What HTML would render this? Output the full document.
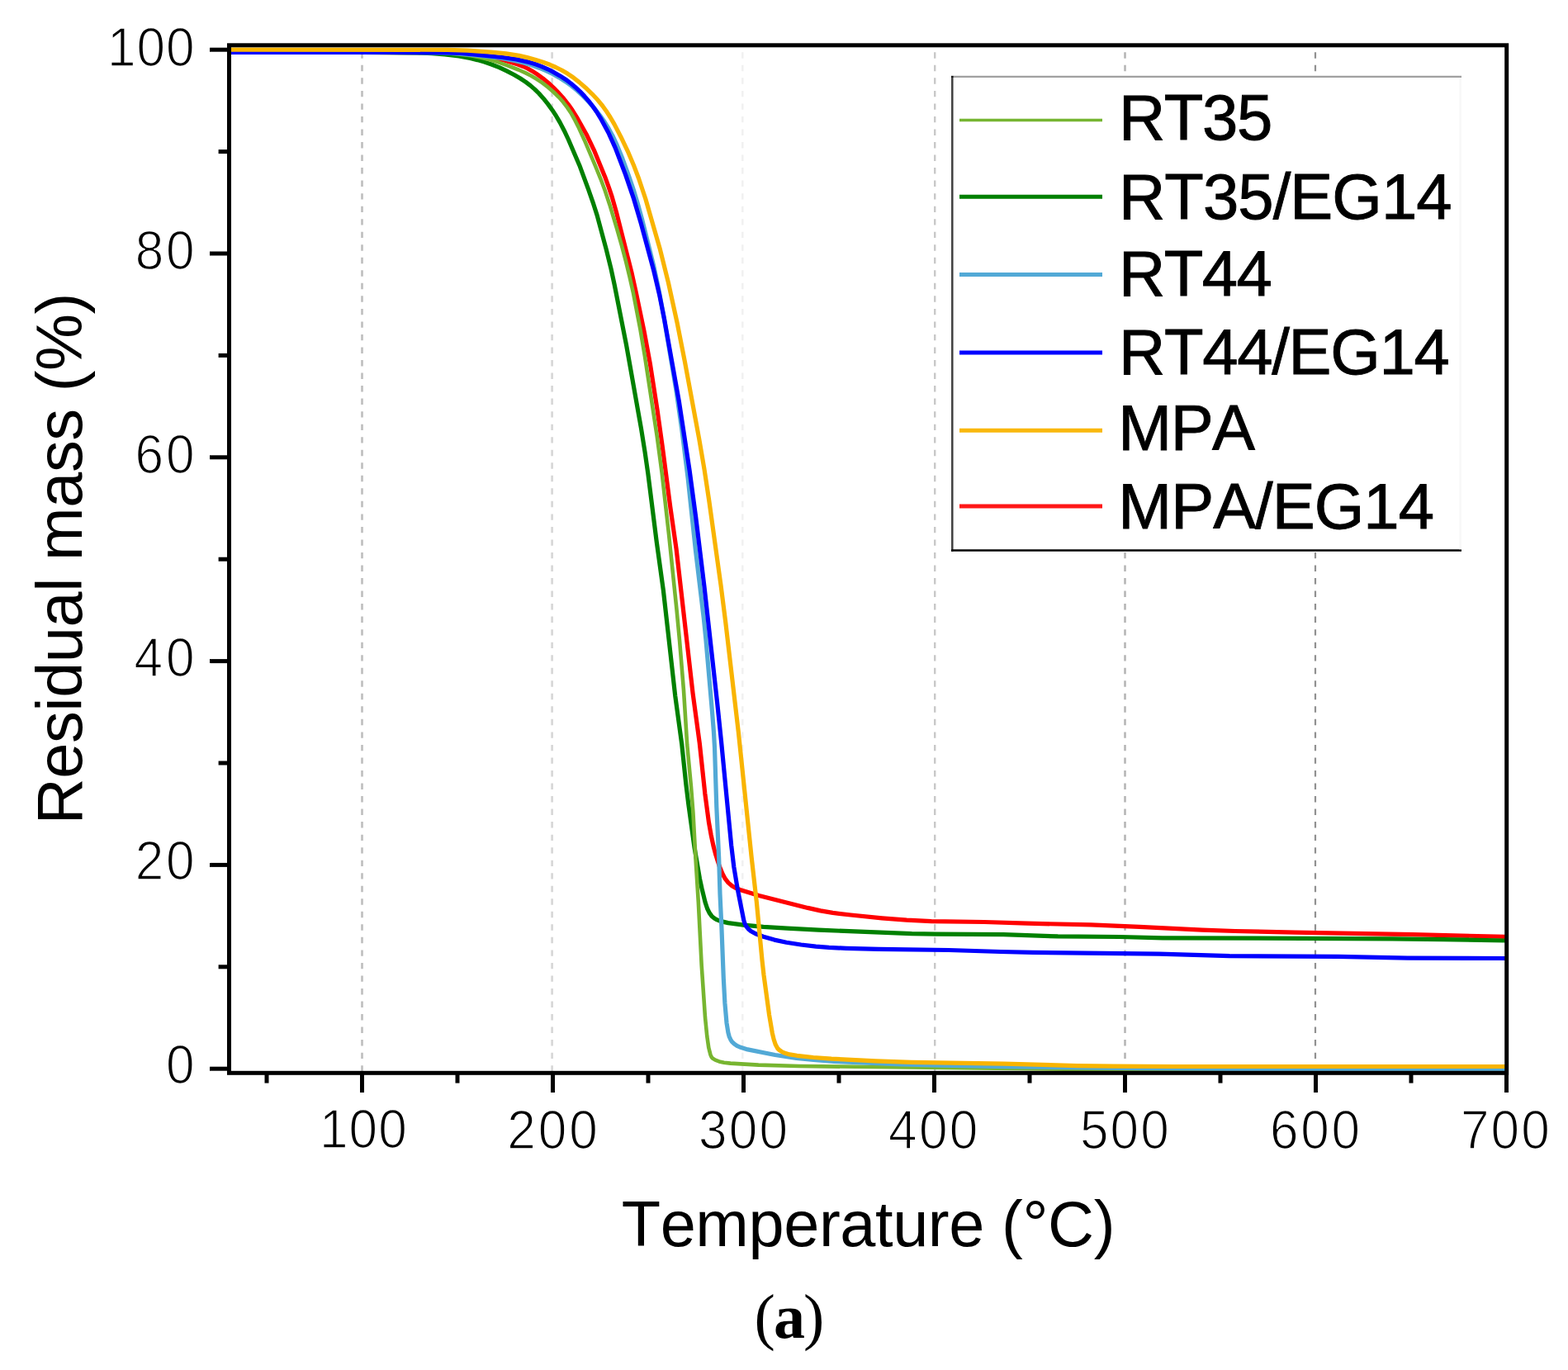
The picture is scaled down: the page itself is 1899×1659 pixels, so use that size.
<!DOCTYPE html>
<html><head><meta charset="utf-8"><title>TGA curves</title>
<style>
html,body{margin:0;padding:0;background:#fff;}
svg{display:block;}
text{font-kerning:none;font-feature-settings:"kern" 0;}
.tl{font-family:"Liberation Sans",Arial,sans-serif;font-size:64px;fill:#000;stroke:#fff;stroke-width:1.5px;}
.at{font-family:"Liberation Sans",Arial,sans-serif;font-size:76px;fill:#000;}
.lg{font-family:"Liberation Sans",Arial,sans-serif;font-size:76px;fill:#000;stroke:#000;stroke-width:0.9px;}
.cap{font-family:"Liberation Serif","Times New Roman",serif;font-size:76px;font-weight:normal;fill:#000;}
</style></head>
<body>
<svg width="1899" height="1659" viewBox="0 0 1899 1659">
<rect width="1899" height="1659" fill="#fff"/>
<defs><clipPath id="pc"><rect x="279" y="56" width="1544" height="1242"/></clipPath></defs>
<line x1="438.5" y1="63.3" x2="438.5" y2="1297" stroke="#bebebe" stroke-width="2.6" stroke-dasharray="7.4 8.13"/>
<line x1="668.6" y1="63.3" x2="668.6" y2="1297" stroke="#d6d6d6" stroke-width="2.6" stroke-dasharray="7.4 8.13"/>
<line x1="899.3" y1="63.3" x2="899.3" y2="1297" stroke="#f0f0f0" stroke-width="2.4" stroke-dasharray="7.4 8.13"/>
<line x1="1132.2" y1="63.3" x2="1132.2" y2="1297" stroke="#c8c8c8" stroke-width="2.4" stroke-dasharray="7.4 8.13"/>
<line x1="1362.5" y1="63.3" x2="1362.5" y2="1297" stroke="#b4b4b4" stroke-width="2.5" stroke-dasharray="7.4 8.13"/>
<line x1="1593" y1="63.3" x2="1593" y2="1297" stroke="#909090" stroke-width="2.2" stroke-dasharray="7.4 8.13"/>
<rect x="1152" y="92" width="618" height="575" fill="#fff"/>
<line x1="1153.3" y1="92" x2="1153.3" y2="667.7" stroke="#404040" stroke-width="2.5"/>
<line x1="1152" y1="666.45" x2="1770" y2="666.45" stroke="#000" stroke-width="2.5"/>
<line x1="1154.5" y1="92.9" x2="1770" y2="92.9" stroke="#a0a0a0" stroke-width="2.2"/>
<rect x="1152" y="91.8" width="2.6" height="2.2" fill="#1a1a1a"/>
<line x1="1768.6" y1="94" x2="1768.6" y2="665.2" stroke="#f8f8f8" stroke-width="2.6"/>
<line x1="1162" y1="145.4" x2="1335" y2="145.4" stroke="#76b532" stroke-width="3.5"/>
<line x1="1162" y1="238.2" x2="1335" y2="238.2" stroke="#008000" stroke-width="5"/>
<line x1="1162" y1="332.5" x2="1335" y2="332.5" stroke="#52a9d6" stroke-width="5"/>
<line x1="1162" y1="427" x2="1335" y2="427" stroke="#0000ff" stroke-width="5"/>
<line x1="1162" y1="521.3" x2="1335" y2="521.3" stroke="#f9b80c" stroke-width="5"/>
<line x1="1162" y1="612.9" x2="1335" y2="612.9" stroke="#ff1818" stroke-width="5"/>
<g fill="none" stroke-width="5.2" stroke-linejoin="round" stroke-linecap="butt" clip-path="url(#pc)">
<path d="M277.0,63.4 454.0,63.4 542.0,63.9 556.0,64.3 566.9,65.0 577.8,66.3 589.7,68.3 609.1,72.6 627.3,78.0 633.7,80.5 639.1,83.0 644.3,85.9 650.1,89.6 657.3,94.8 664.2,100.5 670.8,106.6 677.1,113.1 683.0,119.8 688.5,126.8 693.1,133.3 698.4,141.8 710.2,162.7 719.3,181.6 732.6,213.9 737.4,227.1 741.2,238.4 746.4,256.7 764.8,329.4 770.2,353.8 780.2,401.8 787.3,440.1 795.9,495.4 802.3,541.0 811.7,613.4 819.1,664.9 839.1,839.7 847.3,900.1 853.8,960.8 858.4,995.5 861.2,1011.3 863.9,1024.0 866.7,1034.6 871.2,1048.8 875.0,1058.1 878.3,1064.2 882.0,1068.9 886.5,1072.8 890.8,1075.3 896.3,1077.5 919.1,1084.5 978.2,1099.4 993.8,1102.9 1008.5,1105.4 1030.4,1108.0 1068.2,1111.8 1098.1,1114.2 1128.0,1115.6 1192.0,1116.5 1244.0,1118.2 1321.0,1119.9 1379.9,1122.4 1455.8,1126.2 1495.8,1127.5 1568.8,1129.2 1710.8,1131.6 1824.0,1134.4" stroke="#ff0000"/>
<path d="M277.0,63.4 440.0,63.4 505.0,63.9 523.0,64.6 538.9,65.9 555.8,68.0 569.5,70.5 578.2,72.6 586.8,75.1 595.3,78.0 604.6,81.7 613.6,85.9 622.5,90.5 630.2,95.0 636.8,99.4 642.4,103.6 647.6,108.1 652.6,113.0 657.9,118.9 663.5,125.9 668.8,133.2 673.7,140.7 678.2,148.4 683.3,158.2 688.4,169.0 701.8,200.2 712.6,229.3 718.8,247.2 723.1,260.6 734.0,301.1 740.0,325.4 744.2,344.9 758.5,417.5 776.5,518.9 781.1,547.6 784.8,573.3 795.3,656.6 803.4,715.1 817.7,842.3 825.8,901.7 830.8,949.5 833.7,973.3 841.1,1026.8 847.5,1064.2 850.0,1075.9 854.0,1092.4 856.5,1100.0 859.1,1105.4 862.0,1109.4 865.1,1111.9 868.5,1113.9 872.2,1115.4 881.8,1117.6 900.6,1120.1 924.5,1122.3 953.4,1124.2 991.4,1126.2 1104.3,1130.6 1134.3,1131.1 1215.3,1131.7 1281.2,1133.9 1356.2,1134.5 1408.2,1135.8 1686.2,1136.8 1748.2,1137.6 1824.0,1139.0" stroke="#008000"/>
<path d="M277.0,63.4 447.0,63.5 529.0,64.0 544.0,64.5 556.9,65.6 569.8,67.3 582.5,69.7 593.2,72.2 602.8,75.1 614.0,79.1 628.0,84.5 636.1,88.1 643.2,91.7 650.0,95.8 656.6,100.2 663.8,105.7 670.5,111.5 676.9,117.8 682.2,123.8 687.0,130.1 691.4,136.7 695.8,144.5 700.3,153.4 707.8,169.7 720.7,200.1 727.5,216.8 732.7,230.8 738.4,247.9 747.0,276.6 752.8,296.8 757.9,316.1 762.4,334.6 767.0,355.1 775.5,399.3 781.0,431.8 795.6,527.7 801.7,573.3 810.1,647.8 819.5,738.3 823.0,775.2 828.0,836.0 832.2,901.8 837.0,952.6 839.4,983.5 842.7,1043.4 845.8,1092.3 849.7,1169.2 854.0,1232.1 856.3,1254.9 858.3,1268.8 860.5,1277.4 861.7,1280.0 862.9,1281.5 866.3,1283.6 871.0,1285.4 876.8,1286.7 884.7,1287.6 918.6,1289.6 967.6,1291.0 1368.6,1295.6 1619.6,1297.2 1824.0,1298.0" stroke="#77b530" stroke-width="4.6"/>
<path d="M277.0,63.4 464.1,63.5 536.0,63.9 554.9,65.0 591.8,68.4 608.6,70.6 623.3,73.4 634.0,76.0 643.6,78.8 653.0,82.2 661.2,85.6 669.3,89.5 677.1,93.9 684.7,98.7 692.0,103.9 698.9,109.6 706.2,116.4 713.1,123.5 720.4,131.8 726.5,139.6 732.3,147.8 737.0,155.4 741.8,164.2 747.3,175.9 753.7,191.6 761.3,212.3 767.7,231.2 772.6,247.5 777.6,265.8 791.5,321.1 797.6,349.5 804.0,383.9 818.9,472.6 825.9,521.1 833.1,578.7 842.4,666.2 852.3,748.6 854.9,774.5 862.6,863.1 864.4,886.0 865.5,905.0 867.8,977.0 870.7,1039.9 872.0,1082.9 873.9,1122.8 876.3,1184.8 877.9,1214.7 880.0,1238.6 881.9,1250.4 883.2,1255.2 884.8,1258.8 886.4,1261.3 889.3,1264.1 892.5,1266.3 896.1,1268.0 905.6,1270.9 938.8,1277.5 964.5,1281.4 985.4,1283.5 1010.3,1285.3 1044.3,1287.0 1091.3,1288.8 1142.2,1290.2 1215.2,1291.7 1377.2,1293.6 1600.2,1295.0 1824.0,1295.5" stroke="#52a9d6"/>
<path d="M277.0,63.4 469.0,63.5 542.0,63.8 558.0,64.5 573.9,65.8 608.7,69.5 625.5,71.9 641.1,75.4 648.7,77.8 656.1,80.6 663.4,83.8 670.5,87.4 678.3,91.9 685.0,96.2 691.4,101.0 696.7,105.4 702.5,110.8 708.0,116.6 713.2,122.7 718.1,129.0 722.6,135.5 727.3,143.1 736.9,160.7 745.1,178.9 757.6,211.6 767.6,240.9 776.3,270.6 791.7,327.6 798.6,356.8 804.5,386.2 822.3,485.6 835.1,569.6 842.7,626.1 853.0,710.5 868.7,851.6 873.5,897.4 885.7,1023.8 888.8,1049.6 893.2,1076.2 900.8,1114.5 902.0,1118.4 903.8,1121.8 906.3,1124.9 909.3,1127.4 915.2,1130.8 924.5,1134.2 937.8,1138.1 952.4,1141.3 970.2,1144.0 988.1,1146.2 1004.0,1147.4 1025.0,1148.4 1064.0,1149.4 1149.0,1150.5 1212.0,1152.5 1250.9,1153.4 1403.9,1155.1 1488.9,1157.6 1620.9,1158.4 1704.9,1160.1 1824.0,1160.5" stroke="#0000ff"/>
<path d="M277.0,60.1 542.0,60.3 566.0,61.2 594.9,63.1 612.8,64.9 628.6,67.4 638.3,69.6 648.0,72.2 657.5,75.2 665.9,78.3 673.2,81.5 680.3,85.0 687.2,89.1 693.8,93.5 701.6,99.6 709.2,106.2 717.1,113.8 723.9,121.1 729.6,128.0 734.2,134.4 739.1,142.0 744.1,150.6 751.9,165.7 760.1,182.8 767.2,199.4 773.6,216.2 781.8,240.8 799.5,302.3 809.4,342.1 820.1,390.9 829.4,438.0 846.7,531.4 853.1,568.9 858.8,606.5 873.0,708.5 878.7,753.1 894.3,886.2 910.1,1037.4 916.3,1092.0 923.0,1162.7 925.0,1180.6 931.6,1229.1 935.3,1250.8 937.1,1258.5 939.3,1265.1 941.7,1269.5 943.8,1271.5 946.3,1273.2 949.8,1275.0 956.4,1276.9 965.2,1278.3 985.0,1280.5 1006.9,1282.1 1060.9,1284.8 1103.9,1286.3 1215.8,1288.1 1304.8,1290.6 1348.8,1291.2 1421.8,1291.5 1824.0,1291.5" stroke="#f9b400"/>
</g>
<rect x="277.5" y="54.8" width="1547.2" height="1244.5" fill="none" stroke="#000" stroke-width="5"/>
<line x1="254" y1="1294.2" x2="277" y2="1294.2" stroke="#000" stroke-width="5"/>
<line x1="264.6" y1="1170.8" x2="277" y2="1170.8" stroke="#000" stroke-width="5"/>
<line x1="254" y1="1047.4" x2="277" y2="1047.4" stroke="#000" stroke-width="5"/>
<line x1="264.6" y1="924.0" x2="277" y2="924.0" stroke="#000" stroke-width="5"/>
<line x1="254" y1="800.6" x2="277" y2="800.6" stroke="#000" stroke-width="5"/>
<line x1="264.6" y1="677.2" x2="277" y2="677.2" stroke="#000" stroke-width="5"/>
<line x1="254" y1="553.8" x2="277" y2="553.8" stroke="#000" stroke-width="5"/>
<line x1="264.6" y1="430.4" x2="277" y2="430.4" stroke="#000" stroke-width="5"/>
<line x1="254" y1="307.0" x2="277" y2="307.0" stroke="#000" stroke-width="5"/>
<line x1="264.6" y1="183.6" x2="277" y2="183.6" stroke="#000" stroke-width="5"/>
<line x1="254" y1="60.2" x2="277" y2="60.2" stroke="#000" stroke-width="5"/>
<line x1="323.0" y1="1299" x2="323.0" y2="1311.6" stroke="#000" stroke-width="5"/>
<line x1="438.5" y1="1299" x2="438.5" y2="1323" stroke="#000" stroke-width="5"/>
<line x1="554.0" y1="1299" x2="554.0" y2="1311.6" stroke="#000" stroke-width="5"/>
<line x1="669.5" y1="1299" x2="669.5" y2="1323" stroke="#000" stroke-width="5"/>
<line x1="785.0" y1="1299" x2="785.0" y2="1311.6" stroke="#000" stroke-width="5"/>
<line x1="900.5" y1="1299" x2="900.5" y2="1323" stroke="#000" stroke-width="5"/>
<line x1="1016.0" y1="1299" x2="1016.0" y2="1311.6" stroke="#000" stroke-width="5"/>
<line x1="1131.5" y1="1299" x2="1131.5" y2="1323" stroke="#000" stroke-width="5"/>
<line x1="1247.0" y1="1299" x2="1247.0" y2="1311.6" stroke="#000" stroke-width="5"/>
<line x1="1362.5" y1="1299" x2="1362.5" y2="1323" stroke="#000" stroke-width="5"/>
<line x1="1478.0" y1="1299" x2="1478.0" y2="1311.6" stroke="#000" stroke-width="5"/>
<line x1="1593.5" y1="1299" x2="1593.5" y2="1323" stroke="#000" stroke-width="5"/>
<line x1="1709.0" y1="1299" x2="1709.0" y2="1311.6" stroke="#000" stroke-width="5"/>
<line x1="1824.5" y1="1299" x2="1824.5" y2="1323" stroke="#000" stroke-width="5"/>
<text transform="translate(235.6,1311.7) scale(0.93,1)" text-anchor="end" class="tl" style="font-size:66.8px" textLength="21.5" lengthAdjust="spacing">0</text>
<text transform="translate(235.6,1065.4) scale(0.93,1)" text-anchor="end" class="tl" style="font-size:66.8px" textLength="77.2" lengthAdjust="spacing">20</text>
<text transform="translate(235.6,819.0) scale(0.93,1)" text-anchor="end" class="tl" style="font-size:66.8px" textLength="78.6" lengthAdjust="spacing">40</text>
<text transform="translate(235.6,573.4) scale(0.93,1)" text-anchor="end" class="tl" style="font-size:66.8px" textLength="77.4" lengthAdjust="spacing">60</text>
<text transform="translate(235.6,326.0) scale(0.93,1)" text-anchor="end" class="tl" style="font-size:66.8px" textLength="77.3" lengthAdjust="spacing">80</text>
<text transform="translate(235.6,79.8) scale(0.93,1)" text-anchor="end" class="tl" style="font-size:66.8px" textLength="113.6" lengthAdjust="spacing">100</text>
<text transform="translate(439.8,1390.4) scale(0.93,1)" text-anchor="middle" class="tl" style="font-size:66.8px" textLength="113.8" lengthAdjust="spacing">100</text>
<text transform="translate(669.1,1390.9) scale(0.93,1)" text-anchor="middle" class="tl" style="font-size:66.8px" textLength="117.9" lengthAdjust="spacing">200</text>
<text transform="translate(900.0,1390.9) scale(0.93,1)" text-anchor="middle" class="tl" style="font-size:66.8px" textLength="116.3" lengthAdjust="spacing">300</text>
<text transform="translate(1130.2,1390.9) scale(0.93,1)" text-anchor="middle" class="tl" style="font-size:66.8px" textLength="116.6" lengthAdjust="spacing">400</text>
<text transform="translate(1361.9,1390.9) scale(0.93,1)" text-anchor="middle" class="tl" style="font-size:66.8px" textLength="116.1" lengthAdjust="spacing">500</text>
<text transform="translate(1592.5,1390.9) scale(0.93,1)" text-anchor="middle" class="tl" style="font-size:66.8px" textLength="117.2" lengthAdjust="spacing">600</text>
<text transform="translate(1822.9,1390.9) scale(0.93,1)" text-anchor="middle" class="tl" style="font-size:66.8px" textLength="116.1" lengthAdjust="spacing">700</text>
<text x="1355.0" y="169.2" text-anchor="start" class="lg" style="font-size:77.9px" textLength="186.3" lengthAdjust="spacing">RT35</text>
<text x="1355.0" y="264.6" text-anchor="start" class="lg" style="font-size:77.9px" textLength="403.7" lengthAdjust="spacing">RT35/EG14</text>
<text x="1355.0" y="358.0" text-anchor="start" class="lg" style="font-size:77.9px" textLength="185.8" lengthAdjust="spacing">RT44</text>
<text x="1355.0" y="452.9" text-anchor="start" class="lg" style="font-size:77.9px" textLength="400.9" lengthAdjust="spacing">RT44/EG14</text>
<text x="1354.3" y="544.6" text-anchor="start" class="lg" style="font-size:77.9px" textLength="165.7" lengthAdjust="spacing">MPA</text>
<text x="1354.3" y="639.9" text-anchor="start" class="lg" style="font-size:77.9px" textLength="382.7" lengthAdjust="spacing">MPA/EG14</text>
<text x="752.7" y="1508.9" text-anchor="start" class="at" style="font-size:77.5px" textLength="597.8" lengthAdjust="spacing">Temperature (°C)</text>
<text transform="translate(99.2,998.2) rotate(-90)" text-anchor="start" class="at" style="font-size:77.5px" textLength="643.6" lengthAdjust="spacing">Residual mass (%)</text>
<text x="956.0" y="1620.2" text-anchor="middle" class="cap" style="font-size:76px" textLength="84.8" lengthAdjust="spacing">(<tspan style="font-weight:bold">a</tspan>)</text>
</svg>
</body></html>
